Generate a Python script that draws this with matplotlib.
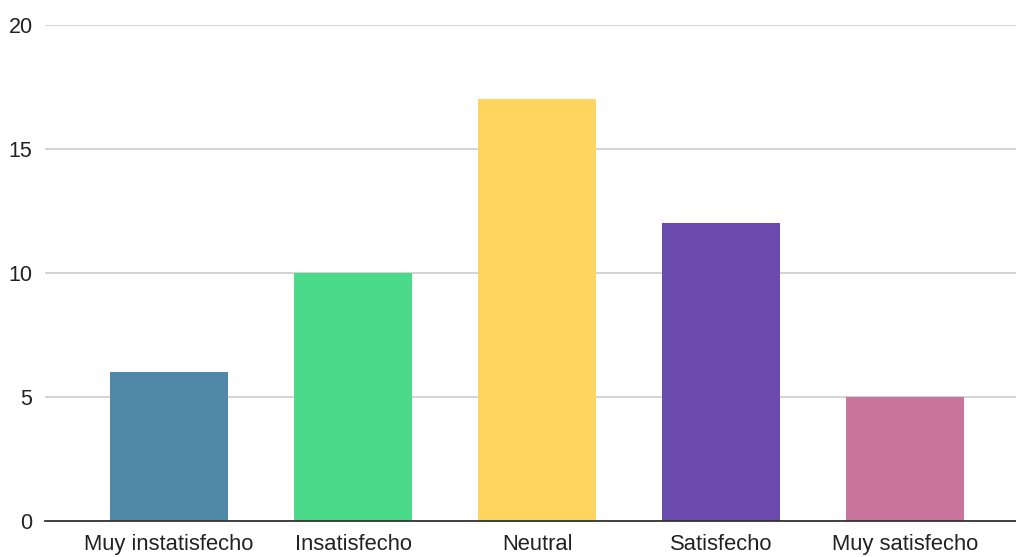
import matplotlib.pyplot as plt
import numpy as np

categories = ["Muy instatisfecho", "Insatisfecho", "Neutral", "Satisfecho", "Muy satisfecho"]
counts = [6, 10, 17, 12, 5]
colors = ["#5089a8", "#4bd98a", "#ffd45f", "#6a4bad", "#c8749c"]
y_ticks = [0, 5, 10, 15, 20]

plt.rcParams["font.family"] = ["Liberation Sans", "DejaVu Sans"]

fig = plt.figure(figsize=(10.16, 5.57), dpi=100)
ax = fig.add_axes([0.0443, 0.0646, 0.9557, 0.8905])

positions = np.arange(len(categories))
ax.bar(positions, counts, width=0.645, color=colors, zorder=3)

ax.set_xlim(-0.674, 4.603)
ax.set_ylim(0, 20)
ax.set_yticks(y_ticks)
ax.set_xticks(positions, categories)
ax.tick_params(axis="both", length=0, colors="#222222")
ax.tick_params(axis="x", labelsize=15.8, pad=9)
ax.tick_params(axis="y", labelsize=15.5, pad=9)

ax.grid(axis="y", color="#cccccc", linewidth=1.2, zorder=0)
for side in ("top", "right", "left"):
    ax.spines[side].set_visible(False)
ax.spines["bottom"].set_color("#333333")
ax.spines["bottom"].set_linewidth(1.3)
ax.spines["bottom"].set_zorder(4)

fig.savefig("out.png", dpi=100)
